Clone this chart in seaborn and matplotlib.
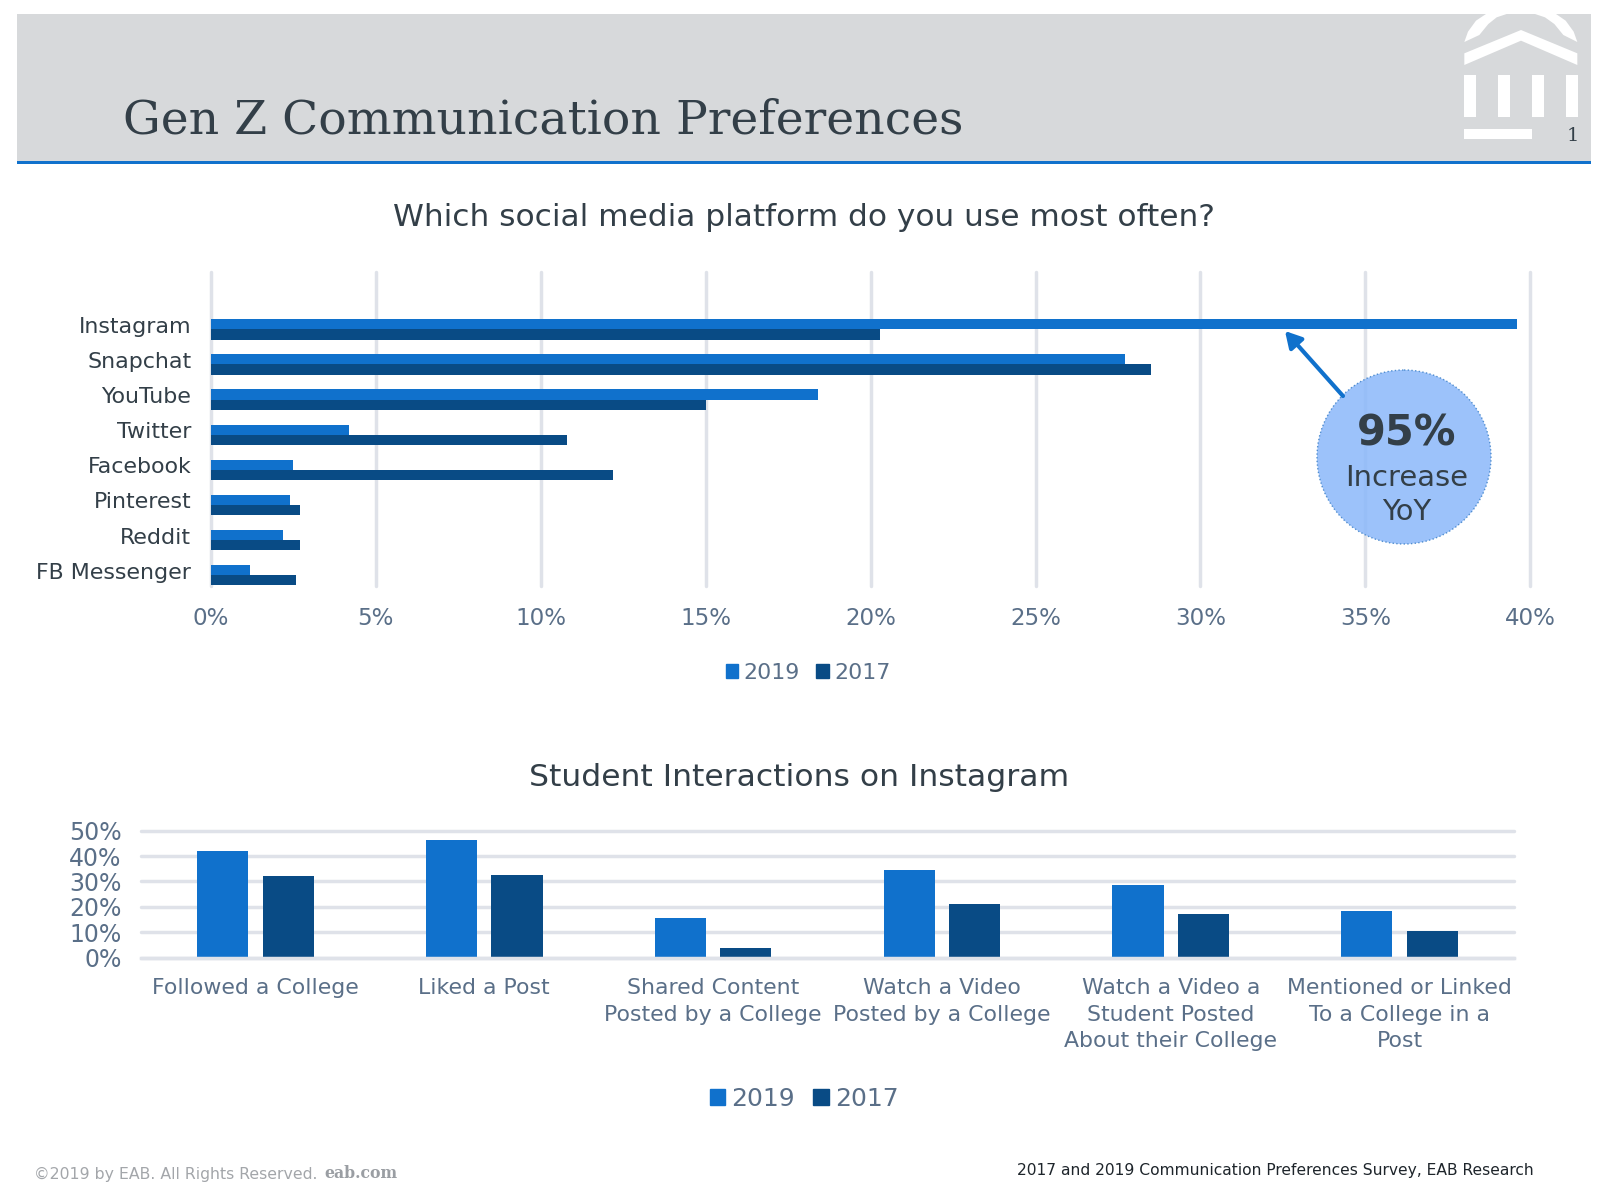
import pandas as pd
import matplotlib.pyplot as plt
import matplotlib.transforms as mtrans
from matplotlib.patches import Circle, Polygon, Rectangle
from matplotlib.ticker import PercentFormatter
import seaborn as sns

# Platform question
platforms = ['Instagram', 'Snapchat', 'YouTube', 'Twitter', 'Facebook',
             'Pinterest', 'Reddit', 'FB Messenger']
platform_2019 = [39.6, 27.7, 18.4, 4.2, 2.5, 2.4, 2.2, 1.2]
platform_2017 = [20.3, 28.5, 15.0, 10.8, 12.2, 2.7, 2.7, 2.6]

# Instagram interactions
interactions = ['Followed a College', 'Liked a Post',
                'Shared Content\nPosted by a College',
                'Watch a Video\nPosted by a College',
                'Watch a Video a\nStudent Posted\nAbout their College',
                'Mentioned or Linked\nTo a College in a\nPost']
interaction_2019 = [42, 46.5, 15.7, 34.7, 28.7, 18.5]
interaction_2017 = [32.3, 32.5, 3.6, 21, 17.3, 10.5]

years = ['2019', '2017']
palette = {'2019': '#1071CC', '2017': '#094B85'}
DARK = '#333F48'
TICK = '#5A6F88'
GRID = '#DFE2E9'

W, H = 1604, 1192

sns.set_theme(style='white')
plt.rcParams['font.family'] = ['DejaVu Sans']

fig = plt.figure(figsize=(W / 100, H / 100), dpi=100)


def pixel_axes(left, top, right, bottom, **kw):
    return fig.add_axes([left / W, 1 - bottom / H, (right - left) / W, (bottom - top) / H], **kw)


def long_table(labels, first, second):
    return pd.DataFrame({
        'label': labels * 2,
        'year': [years[0]] * len(labels) + [years[1]] * len(labels),
        'value': first + second,
    })


# full page layer for the header and the callout
page = pixel_axes(0, 0, W, H, zorder=0)
page.set_xlim(0, W)
page.set_ylim(H, 0)
page.axis('off')

page.add_patch(Rectangle((17, 14), 1574, 147, color='#D7D9DB', lw=0))
page.add_patch(Rectangle((17, 161), 1574, 3, color='#1071CC', lw=0))
page.text(123, 121, 'Gen Z Communication Preferences', family='DejaVu Serif',
          fontsize=34, color=DARK, va='center', ha='left')


# logo, drawn from zoomed crop positions
def logo(pts):
    return [(1380 + x / 3, y / 3) for x, y in pts]


white = dict(color='white', lw=0)
page.add_patch(Polygon(logo([(253, 126), (264, 95), (288, 62), (318, 42), (380, 42), (350, 52),
                             (325, 72), (298, 105)]), **white))
page.add_patch(Polygon(logo([(592, 126), (581, 95), (557, 62), (528, 42), (465, 42), (495, 52),
                             (523, 72), (550, 105)]), **white))
page.add_patch(Polygon(logo([(253, 160), (423, 90), (592, 160), (592, 195), (423, 122), (253, 195)]), **white))
for x0 in [253, 355, 456, 557]:
    page.add_patch(Polygon(logo([(x0, 225), (x0 + 36, 225), (x0 + 36, 352), (x0, 352)]), **white))
page.add_patch(Polygon(logo([(253, 388), (456, 388), (456, 418), (253, 418)]), **white))
page.text(1573, 136, '1', fontsize=14, family='DejaVu Serif', color=DARK, ha='center', va='center')

page.text(804, 217, 'Which social media platform do you use most often?',
          fontsize=22.5, color=DARK, ha='center', va='center')
page.text(799, 777, 'Student Interactions on Instagram',
          fontsize=22.6, color=DARK, ha='center', va='center')

page.text(34, 1174, '©2019 by EAB. All Rights Reserved.', fontsize=11.3, color='#A3A6AA',
          ha='left', va='center')
page.text(324, 1174, 'eab.com', fontsize=11.3, color='#9A9EA3', fontweight='bold',
          family='DejaVu Serif', ha='left', va='center')
page.text(1534, 1170, '2017 and 2019 Communication Preferences Survey, EAB Research',
          fontsize=11.15, color='#1E252B', ha='right', va='center')

# top chart
ax = pixel_axes(210.7, 272, 1530.4, 586, zorder=1)
ax.patch.set_alpha(0)
sns.barplot(data=long_table(platforms, platform_2019, platform_2017), y='label', x='value',
            hue='year', hue_order=years, palette=palette, orient='h',
            width=0.58, gap=0, saturation=1, linewidth=0, ax=ax, legend=False, zorder=3)
ax.set_xlim(0, 40)
ax.set_ylim(7.31, -1.635)
ax.set_xticks(range(0, 45, 5))
ax.xaxis.set_major_formatter(PercentFormatter(decimals=0))
ax.grid(axis='x', color=GRID, lw=2.5, zorder=0, clip_on=False)
ax.set_axisbelow(True)
ax.set_xlabel('')
ax.set_ylabel('')
sns.despine(ax=ax, left=True, bottom=True)
ax.tick_params(axis='x', length=0, pad=15, labelsize=16.6, labelcolor=TICK)
ax.tick_params(axis='y', length=0, pad=14, labelsize=15.9, labelcolor=DARK)
lift = mtrans.ScaledTranslation(0, 4.5 / 100, fig.dpi_scale_trans)
for lab in ax.get_yticklabels():
    lab.set_transform(lab.get_transform() + lift)

# bottom chart
bx = pixel_axes(141, 830.7, 1514, 957.5, zorder=1)
bx.patch.set_alpha(0)
sns.barplot(data=long_table(interactions, interaction_2019, interaction_2017), x='label', y='value',
            hue='year', hue_order=years, palette=palette,
            width=0.572, gap=0.217, saturation=1, linewidth=0, ax=bx, legend=False, zorder=3)
bx.set_xlim(-0.5, 5.5)
bx.set_ylim(0, 50)
bx.set_yticks(range(0, 60, 10))
bx.yaxis.set_major_formatter(PercentFormatter(decimals=0))
bx.grid(axis='y', color=GRID, lw=2.5, zorder=0, clip_on=False)
bx.set_axisbelow(True)
bx.set_xlabel('')
bx.set_ylabel('')
sns.despine(ax=bx, left=True)
bx.spines['bottom'].set_color(GRID)
bx.spines['bottom'].set_linewidth(2.5)
bx.spines['bottom'].set_zorder(5)
bx.tick_params(axis='x', length=0, pad=15, labelsize=15.8, labelcolor=TICK)
bx.tick_params(axis='y', length=0, pad=14, labelsize=17, labelcolor=TICK)
for lab in bx.get_xticklabels():
    lab.set_linespacing(1.39)


# legends
def year_legend(anchor, size, marker):
    handles = [Rectangle((0, 0), 1, 1, color=palette[y]) for y in years]
    return fig.legend(handles, years, loc='center', bbox_to_anchor=(anchor[0] / W, 1 - anchor[1] / H),
                      ncol=2, frameon=False, fontsize=size, labelcolor=TICK,
                      handlelength=marker, handleheight=marker, handletextpad=0.25, columnspacing=0.75,
                      borderpad=0)


year_legend((808, 673), 15.9, 0.56)
year_legend((804, 1099), 18, 0.61)

# callout on top of the charts
top = pixel_axes(0, 0, W, H, zorder=5)
top.set_xlim(0, W)
top.set_ylim(H, 0)
top.axis('off')
top.add_patch(Circle((1404, 457), 87, facecolor='#8DB9FA', edgecolor='#3F82C9', alpha=0.87,
                     lw=1, ls=':'))
top.annotate('', xy=(1285, 331), xytext=(1343, 396),
             arrowprops=dict(arrowstyle='-|>,head_width=0.45,head_length=0.8', color='#1071CC', lw=3,
                             shrinkA=0, shrinkB=0))
top.text(1407, 433, '95%', fontsize=30, fontweight='bold', color=DARK,
         ha='center', va='center')
top.text(1407, 478, 'Increase', fontsize=20.9, color=DARK, ha='center', va='center')
top.text(1407, 512, 'YoY', fontsize=20.9, color=DARK, ha='center', va='center')

plt.savefig('out.png', dpi=100)
